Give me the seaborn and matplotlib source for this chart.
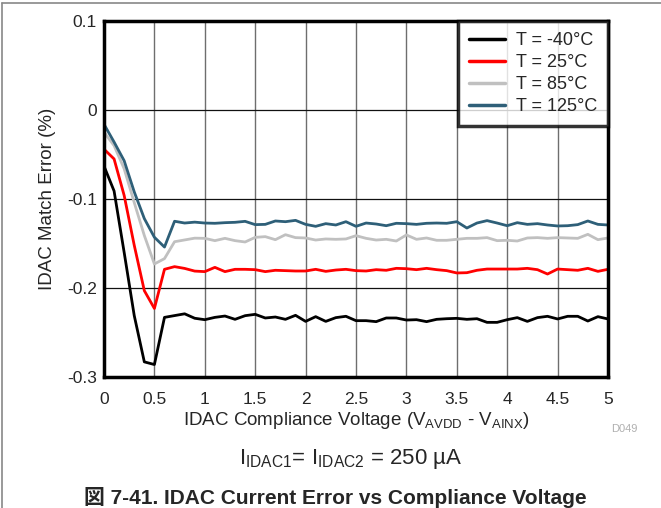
import numpy as np
import pandas as pd
import matplotlib
matplotlib.use('Agg')
import matplotlib.pyplot as plt
import seaborn as sns

# compliance voltage (V), step 0.1
voltage = np.round(np.arange(0, 5.01, 0.1), 1)

err_m40 = [-0.063, -0.091, -0.160, -0.231, -0.283, -0.286, -0.233, -0.231, -0.229, -0.234,
           -0.2356, -0.2330, -0.2315, -0.2352, -0.2311, -0.2296, -0.2337, -0.2326, -0.2352, -0.2307,
           -0.2375, -0.2322, -0.2375, -0.2333, -0.2318, -0.2367, -0.2367, -0.2378, -0.2337, -0.2337,
           -0.2360, -0.2356, -0.2378, -0.2352, -0.2345, -0.2341, -0.2352, -0.2345, -0.2386, -0.2386,
           -0.2356, -0.2333, -0.2375, -0.2333, -0.2318, -0.2348, -0.2318, -0.2318, -0.2371, -0.2322,
           -0.2348]
err_25 = [-0.044, -0.055, -0.096, -0.152, -0.203, -0.223, -0.179, -0.176, -0.178, -0.181,
          -0.1816, -0.1768, -0.1816, -0.1790, -0.1790, -0.1794, -0.1816, -0.1801, -0.1805, -0.1809,
          -0.1809, -0.1790, -0.1813, -0.1798, -0.1790, -0.1805, -0.1809, -0.1794, -0.1801, -0.1779,
          -0.1783, -0.1794, -0.1779, -0.1794, -0.1805, -0.1831, -0.1828, -0.1801, -0.1787, -0.1787,
          -0.1787, -0.1787, -0.1779, -0.1794, -0.1843, -0.1787, -0.1794, -0.1801, -0.1779, -0.1813,
          -0.1790]
err_85 = [-0.025, -0.040, -0.066, -0.104, -0.141, -0.173, -0.167, -0.148, -0.146, -0.144,
          -0.1442, -0.1468, -0.1442, -0.1468, -0.1483, -0.1431, -0.1423, -0.1457, -0.1401, -0.1434,
          -0.1438, -0.1461, -0.1449, -0.1453, -0.1449, -0.1412, -0.1442, -0.1461, -0.1453, -0.1472,
          -0.1404, -0.1453, -0.1438, -0.1464, -0.1464, -0.1453, -0.1442, -0.1442, -0.1434, -0.1468,
          -0.1464, -0.1472, -0.1438, -0.1434, -0.1442, -0.1434, -0.1438, -0.1442, -0.1397, -0.1457,
          -0.1438]
err_125 = [-0.016, -0.036, -0.057, -0.092, -0.122, -0.143, -0.154, -0.125, -0.127, -0.126,
           -0.1270, -0.1273, -0.1266, -0.1262, -0.1251, -0.1288, -0.1285, -0.1247, -0.1255, -0.1240,
           -0.1285, -0.1307, -0.1277, -0.1292, -0.1255, -0.1307, -0.1270, -0.1281, -0.1300, -0.1273,
           -0.1277, -0.1285, -0.1273, -0.1270, -0.1273, -0.1255, -0.1326, -0.1270, -0.1243, -0.1270,
           -0.1300, -0.1266, -0.1285, -0.1277, -0.1292, -0.1303, -0.1300, -0.1288, -0.1247, -0.1285,
           -0.1292]

labels = ['T = -40°C', 'T = 25°C', 'T = 85°C', 'T = 125°C']
colors = ['#000000', '#ff0000', '#c0c0c0', '#2e5f78']

frames = []
for lab, vals in zip(labels, [err_m40, err_25, err_85, err_125]):
    frames.append(pd.DataFrame({'V': voltage, 'err': vals, 'T': lab}))
df = pd.concat(frames, ignore_index=True)

sns.set_style('white')
plt.rcParams['font.family'] = ['Liberation Sans', 'Noto Sans CJK JP', 'DejaVu Sans']
plt.rcParams['mathtext.fontset'] = 'custom'
plt.rcParams['mathtext.rm'] = 'Liberation Sans'

fig = plt.figure(figsize=(6.61, 5.08), dpi=100)
ax = fig.add_axes([104 / 661, 1 - 377 / 508, 504 / 661, 356 / 508])

sns.lineplot(data=df, x='V', y='err', hue='T', hue_order=labels, palette=colors,
             linewidth=2.0, ax=ax)

ax.set_xlim(0, 5)
ax.set_ylim(-0.3, 0.1)
ax.set_xticks(np.arange(0, 5.01, 0.5))
ax.set_xticklabels(['0', '0.5', '1', '1.5', '2', '2.5', '3', '3.5', '4', '4.5', '5'])
ax.set_yticks([-0.3, -0.2, -0.1, 0, 0.1])
ax.set_yticklabels(['-0.3', '-0.2', '-0.1', '0', '0.1'])
ax.tick_params(length=0, labelsize=12.5)
ax.tick_params(axis='x', pad=11)
ax.tick_params(axis='y', pad=5)
ax.xaxis.grid(True, color='#6e6e6e', linewidth=1.0)
ax.yaxis.grid(True, color='#111111', linewidth=0.9)
for s in ax.spines.values():
    s.set_linewidth(2.5)
    s.set_color('black')

ax.set_xlabel(r'IDAC Compliance Voltage (V$_{\mathregular{AVDD}}$ - V$_{\mathregular{AINX}}$)',
              fontsize=13.5, labelpad=2)
ax.set_ylabel('IDAC Match Error (%)', fontsize=13.5, labelpad=8)

leg = ax.legend(loc='upper right', borderaxespad=0, fontsize=13, frameon=True,
                fancybox=False, handlelength=2.0, labelspacing=0.28, borderpad=0.6,
                handletextpad=0.6)
leg.get_frame().set_edgecolor('black')
leg.get_frame().set_linewidth(2.5)
for h in leg.get_lines():
    h.set_linewidth(2.5)

fig.text(624 / 661, 1 - 429 / 508, 'D049', color='#b0b0b0', fontsize=8, ha='center', va='center')
fig.text(351 / 661, 1 - 459 / 508,
         r'I$_{\mathregular{IDAC1}}$= I$_{\mathregular{IDAC2}}$ = 250 µA',
         fontsize=16, ha='center', va='center')
fig.text(335 / 661, 1 - 497 / 508, '図 7-41. IDAC Current Error vs Compliance Voltage',
         fontsize=15, fontweight='bold', ha='center', va='center')

# page frame lines (left and top)
fig.add_artist(plt.Line2D([1.5 / 661, 1.5 / 661], [0, 1 - 3 / 508], color='#888888', lw=1.2))
fig.add_artist(plt.Line2D([1.5 / 661, 1], [1 - 3 / 508, 1 - 3 / 508], color='#888888', lw=1.2))

fig.savefig('out.png', dpi=100)
